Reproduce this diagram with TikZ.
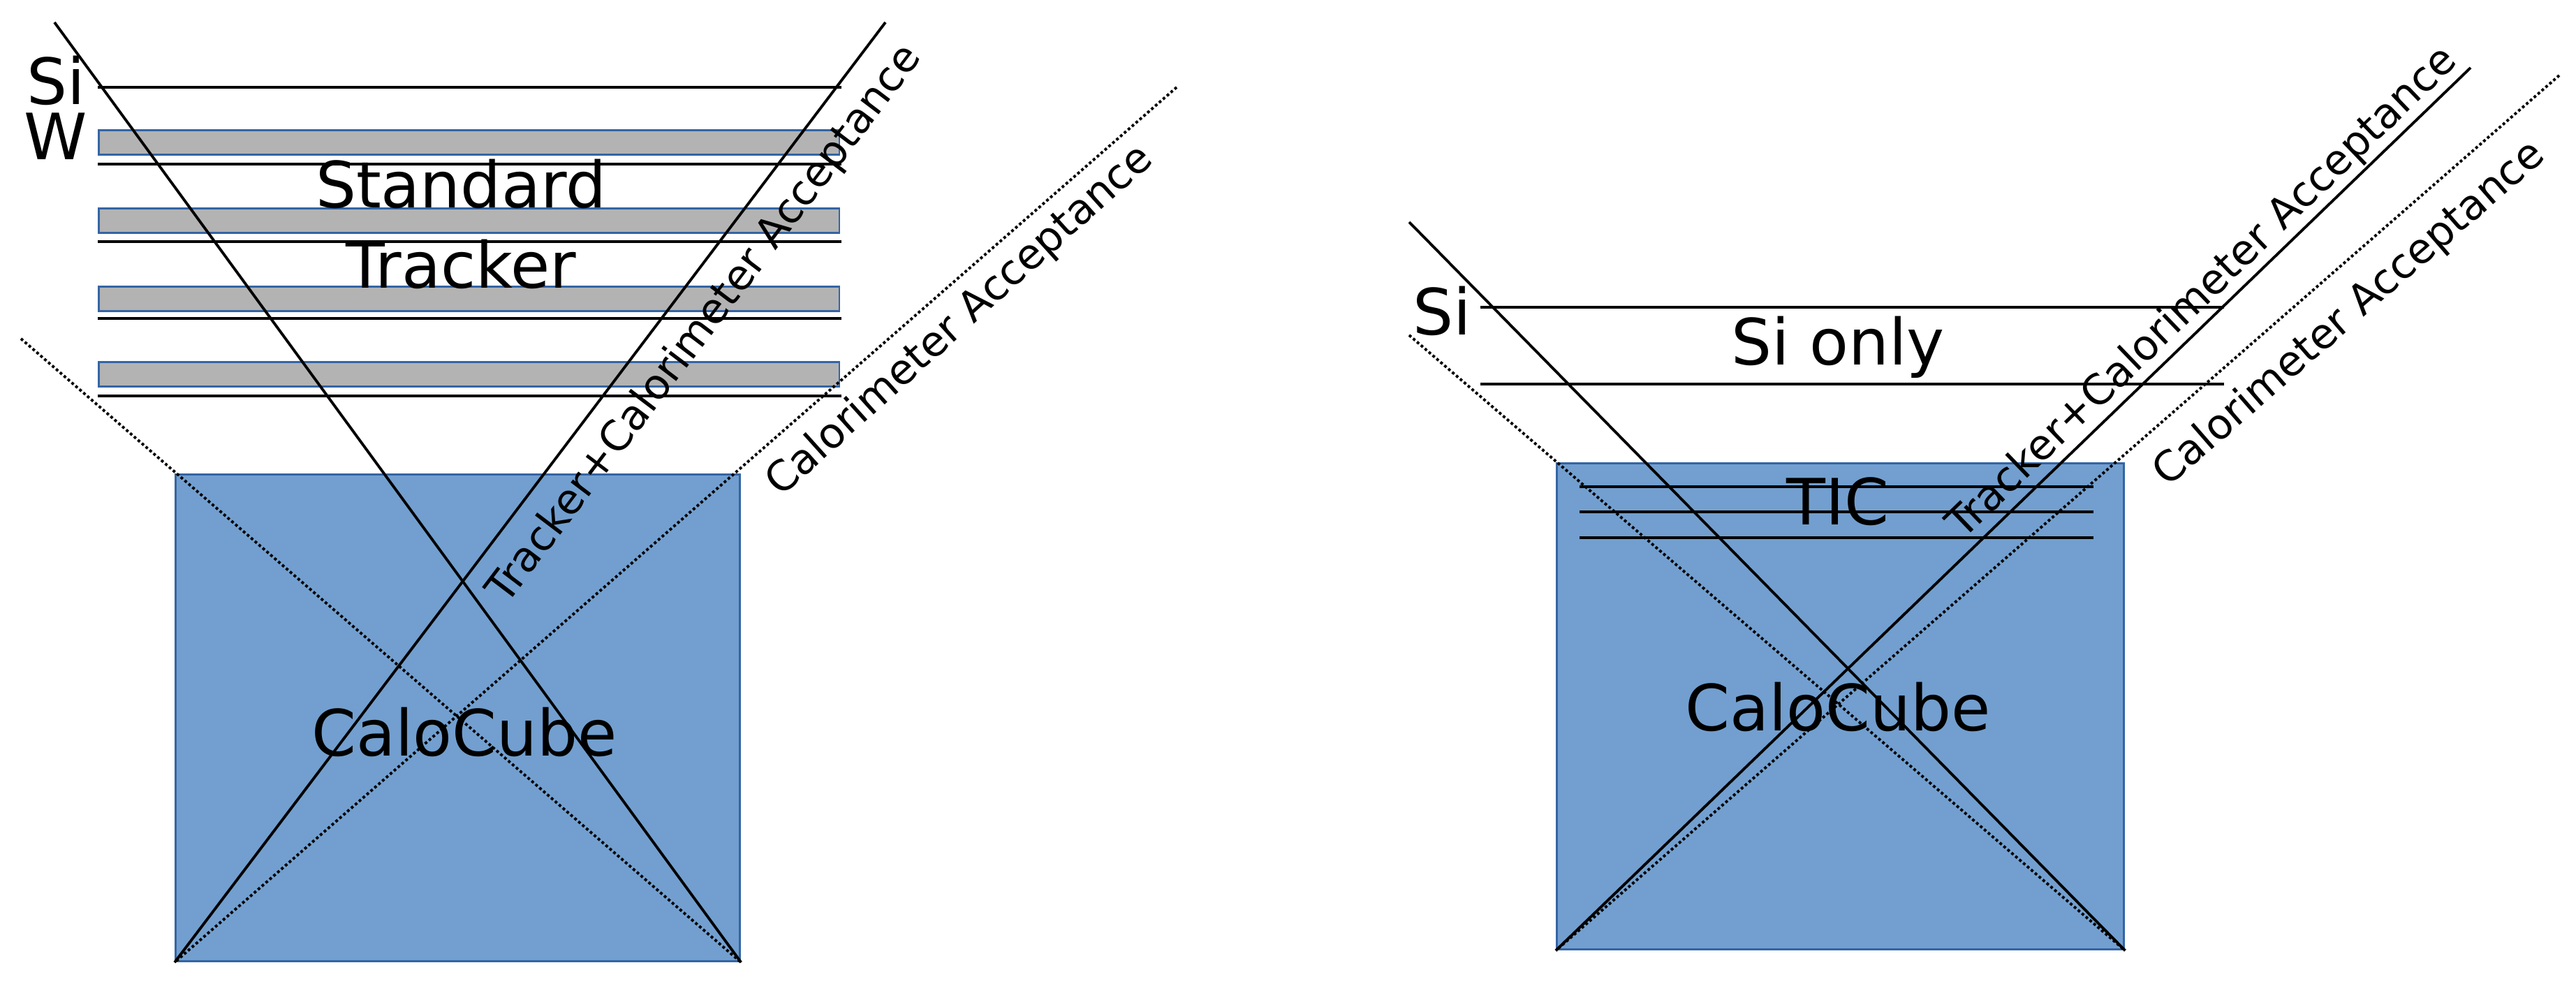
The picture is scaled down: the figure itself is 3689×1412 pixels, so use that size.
\documentclass[tikz,border=0pt]{standalone}
\usepackage{fontspec}
\setmainfont{DejaVu Sans}
\definecolor{calofill}{HTML}{729FCF}
\definecolor{caloedge}{HTML}{3465A4}
\definecolor{wfill}{HTML}{B3B3B3}
\begin{document}
\begin{tikzpicture}[x=0.01cm,y=-0.01cm,
  calo_box/.style={draw=caloedge,fill=calofill,thick,inner sep=0pt,anchor=north west},
  w_layer/.style={draw=caloedge,fill=wfill,thick,inner sep=0pt,anchor=north west,minimum height=0.35cm,minimum width=10.6cm},
  big_text/.style={font=\fontsize{26}{30}\selectfont},
  acc_text/.style={font=\fontsize{17}{20}\selectfont},
  solid_line/.style={semithick,line width=1.1pt},
  dot_line/.style={line width=1.1pt,densely dotted}]
  \useasboundingbox (0,0) rectangle (3689,1412);

  % left: standard tracker
  \node[calo_box,minimum width=8.08cm,minimum height=6.97cm] (calo1) at (250,678) {};
  \node[big_text] (calo1txt) at (665,1048) {CaloCube};
  \coordinate (si1a) at (140,125); \coordinate (si1b) at (1205,125);
  \draw[solid_line] (si1a) -- (si1b);
  \foreach \y/\l [count=\i] in {185/235,297/346,409/456,517/567} {
    \node[w_layer] (w\i) at (140,\y) {};
    \coordinate (wl\i a) at (140,\l); \coordinate (wl\i b) at (1205,\l);
    \draw[solid_line] (wl\i a) -- (wl\i b);
  }
  \node[big_text] (si1) at (80,115) {Si};
  \node[big_text] (w) at (80,195) {W};
  \node[big_text] (std) at (660,263) {Standard};
  \node[big_text] (trk) at (660,378) {Tracker};

  \coordinate (t1a) at (78,32);   \coordinate (t1b) at (1268,32);
  \coordinate (c1a) at (30,485);  \coordinate (c1b) at (1685,125);
  \draw[solid_line] (t1a) -- (calo1.south east);
  \draw[solid_line] (t1b) -- (calo1.south west);
  \draw[dot_line] (c1a) -- (calo1.south east);
  \draw[dot_line] (c1b) -- (calo1.south west);
  \node[acc_text,rotate=52.8] (acc1t) at (1010,465) {Tracker+Calorimeter Acceptance};
  \node[acc_text,rotate=42] (acc1c) at (1375,460) {Calorimeter Acceptance};

  % right: TIC
  \node[calo_box,minimum width=8.12cm,minimum height=6.96cm] (calo2) at (2228,662) {};
  \node[big_text] (calo2txt) at (2632,1012) {CaloCube};
  \foreach \y [count=\i] in {697,733,770} {
    \coordinate (tic\i a) at (2262,\y); \coordinate (tic\i b) at (2998,\y);
    \draw[solid_line] (tic\i a) -- (tic\i b);
  }
  \node[big_text] (tic) at (2632,718) {TIC};
  \coordinate (si2a) at (2120,440); \coordinate (si2b) at (3185,440);
  \coordinate (si2c) at (2120,550); \coordinate (si2d) at (3185,550);
  \draw[solid_line] (si2a) -- (si2b);
  \draw[solid_line] (si2c) -- (si2d);
  \node[big_text] (si2) at (2065,445) {Si};
  \node[big_text] (sionly) at (2632,497) {Si only};

  \coordinate (t2a) at (2018,318); \coordinate (t2b) at (3538,97);
  \coordinate (c2a) at (2018,480); \coordinate (c2b) at (3665,108);
  \draw[solid_line] (t2a) -- (calo2.south east);
  \draw[solid_line] (t2b) -- (calo2.south west);
  \draw[dot_line] (c2a) -- (calo2.south east);
  \draw[dot_line] (c2b) -- (calo2.south west);
  \node[acc_text,rotate=43.9] (acc2t) at (3155,420) {Tracker+Calorimeter Acceptance};
  \node[acc_text,rotate=41] (acc2c) at (3365,450) {Calorimeter Acceptance};
\end{tikzpicture}
\end{document}
